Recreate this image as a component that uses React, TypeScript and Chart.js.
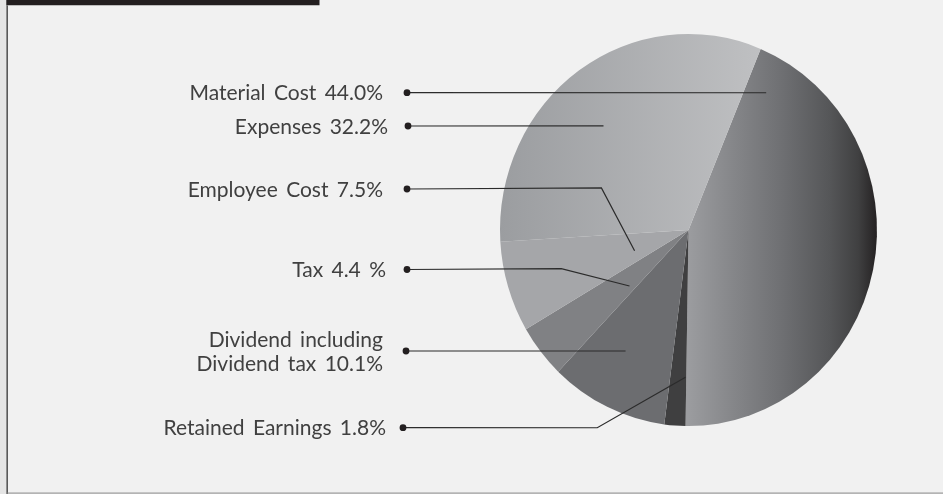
import React, { useEffect, useRef } from 'react';
import { Chart, registerables } from 'chart.js';

Chart.register(...registerables);

// ---- data (clockwise order of slices) ----
const categories = ['Material Cost', 'Retained Earnings', 'Dividend including Dividend tax', 'Tax', 'Employee Cost', 'Expenses'];
const shares = [44.0, 1.8, 10.1, 4.4, 7.5, 32.2];
const labelTexts = [
  ['Material Cost 44.0%'],
  ['Retained Earnings 1.8%'],
  ['Dividend including', 'Dividend tax 10.1%'],
  ['Tax 4.4 %'],
  ['Employee Cost 7.5%'],
  ['Expenses 32.2%'],
];

// ---- layout (not data) ----
const labelRowY = [92.7, 427.7, 351, 269.5, 189, 126];
const textRight = [383, 386, 383, 386, 383, 388];
const dotX = [407, 403, 406, 407, 407, 408];
// leader path points, expressed relative to the pie centre in units of the pie radius
const leaderElbows: (number[] | null)[] = [null, [-0.484, 1.049], null, [-0.675, 0.205], [-0.462, -0.223], null];
const leaderEnds = [[0.412, -0.728], [-0.016, 0.781], [-0.334, 0.642], [-0.313, 0.297], [-0.286, 0.11], [-0.451, -0.552]];
const solidColors = ['', '#3f3f40', '#6c6d70', '#808184', '#a5a6a9', ''];
const yStretch = 1.04;

export default function App() {
  const ref = useRef<HTMLCanvasElement>(null);

  useEffect(() => {
    if (!ref.current) return;

    const bgPlugin = {
      id: 'bg',
      beforeDraw(chart: any) {
        const { ctx, width, height } = chart;
        ctx.save();
        ctx.fillStyle = '#f1f1f1';
        ctx.fillRect(0, 0, width, height);
        ctx.fillStyle = '#e5e5e5';
        ctx.fillRect(0, 0, 6.5, height);
        ctx.fillStyle = '#333333';
        ctx.fillRect(6.5, 0, 1.3, height);
        ctx.fillStyle = '#231f20';
        ctx.fillRect(6.5, 0, 313, 5);
        ctx.fillStyle = '#b0b0b0';
        ctx.fillRect(7.5, 5, 312, 0.8);
        ctx.fillStyle = '#9a9a9a';
        ctx.fillRect(7.5, height - 1.5, width, 1.2);
        ctx.restore();
      },
    };

    const stretchPlugin = {
      id: 'stretch',
      beforeDatasetsDraw(chart: any) {
        const arc = chart.getDatasetMeta(0).data[0];
        const ctx = chart.ctx;
        ctx.save();
        ctx.translate(arc.x, arc.y);
        ctx.scale(1, yStretch);
        ctx.translate(-arc.x, -arc.y);
      },
      afterDatasetsDraw(chart: any) {
        chart.ctx.restore();
      },
    };

    const labelPlugin = {
      id: 'labels',
      afterDraw(chart: any) {
        const ctx = chart.ctx;
        const arc = chart.getDatasetMeta(0).data[0];
        const cx = arc.x, cy = arc.y, r = arc.outerRadius;
        ctx.save();
        for (let i = 0; i < categories.length; i++) {
          const y = labelRowY[i];
          const x0 = dotX[i];
          ctx.strokeStyle = '#2b2b2b';
          ctx.lineWidth = 1.2;
          ctx.beginPath();
          ctx.moveTo(x0, y);
          const elb = leaderElbows[i];
          if (elb) ctx.lineTo(cx + elb[0] * r, cy + elb[1] * r);
          const e = leaderEnds[i];
          ctx.lineTo(cx + e[0] * r, cy + e[1] * r);
          ctx.stroke();
          ctx.fillStyle = '#231f20';
          ctx.beginPath();
          ctx.arc(x0, y, 3.4, 0, Math.PI * 2);
          ctx.fill();

          ctx.fillStyle = '#404040';
          ctx.font = '21px Lato, "Noto Sans", sans-serif';
          (ctx as any).wordSpacing = '3px';
          ctx.textAlign = 'right';
          ctx.textBaseline = 'middle';
          const lines = labelTexts[i];
          const lh = 24;
          const startY = y - ((lines.length - 1) * lh) / 2;
          lines.forEach((t, k) => ctx.fillText(t, textRight[i], startY + k * lh + 1));
        }
        ctx.restore();
      },
    };

    const bg = (c: any) => {
      const i = c.dataIndex;
      const chart = c.chart;
      const area = chart.chartArea;
      if (!area) return '#888';
      const ctx = chart.ctx;
      const cx = (area.left + area.right) / 2;
      const r = (area.right - area.left) / 2;
      if (i === 0) {
        const g = ctx.createLinearGradient(cx, 0, cx + r, 0);
        g.addColorStop(0, '#9b9c9f');
        g.addColorStop(0.25, '#848588');
        g.addColorStop(0.5, '#6e6f72');
        g.addColorStop(0.75, '#555658');
        g.addColorStop(0.9, '#404041');
        g.addColorStop(1, '#242122');
        return g;
      }
      if (i === 5) {
        const g = ctx.createLinearGradient(cx - r, 0, cx + 0.42 * r, 0);
        g.addColorStop(0, '#9b9da0');
        g.addColorStop(1, '#c0c1c3');
        return g;
      }
      return solidColors[i];
    };

    const chart = new Chart(ref.current, {
      type: 'pie',
      data: {
        labels: categories,
        datasets: [
          {
            data: shares,
            backgroundColor: bg as any,
            borderWidth: 0,
          },
        ],
      },
      options: {
        responsive: false,
        animation: false,
        rotation: 22.5,
        layout: { padding: { left: 500, right: 66, top: 41.5, bottom: 75.5 } },
        plugins: { legend: { display: false }, tooltip: { enabled: false } },
      },
      plugins: [bgPlugin, stretchPlugin, labelPlugin],
    });
    return () => chart.destroy();
  }, []);

  return (
    <div style={{ position: 'absolute', left: 0, top: 0, width: 943, height: 494 }}>
      <canvas ref={ref} width={943} height={494} style={{ width: 943, height: 494, display: 'block' }} />
    </div>
  );
}
